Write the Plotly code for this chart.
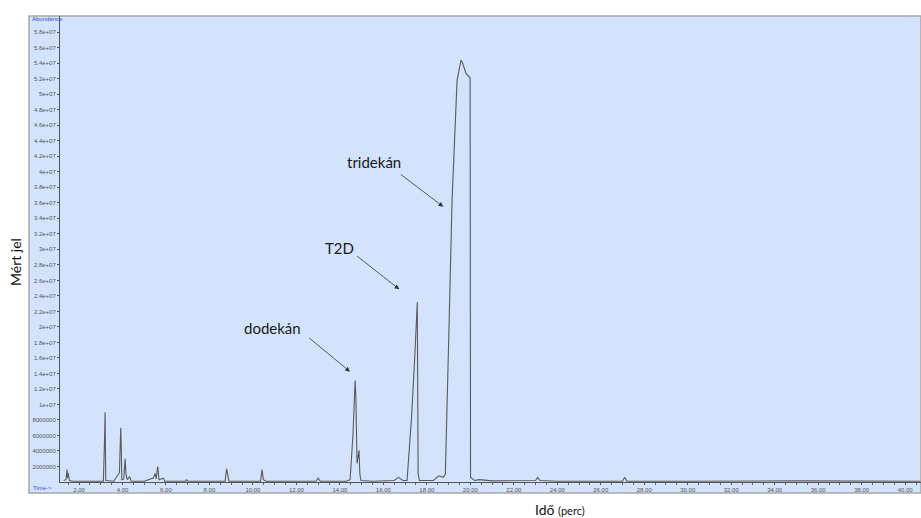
import plotly.graph_objects as go

# Chromatogram (time in minutes, abundance)
times = [1.30, 1.40, 1.45, 1.47, 1.49, 1.52, 1.56, 1.70, 2.50, 3.12, 3.17, 3.20, 3.23,
         3.60, 3.86, 3.92, 3.94, 3.97, 4.06, 4.12, 4.16, 4.22, 4.33, 4.40, 5.00, 5.42,
         5.50, 5.55, 5.62, 5.68, 5.88, 5.95, 6.90, 6.95, 7.00, 8.00, 8.72, 8.79, 8.84,
         8.90, 10.35, 10.42, 10.48, 10.60, 12.90, 13.00, 13.10, 14.30, 14.47, 14.60,
         14.70, 14.73, 14.79, 14.88, 14.92, 14.97, 15.50, 16.50, 16.70, 16.90, 17.09,
         17.30, 17.45, 17.56, 17.60, 17.66, 18.30, 18.55, 18.75, 18.85, 19.02, 19.16,
         19.39, 19.57, 19.65, 19.80, 19.99, 20.01, 20.20, 20.40, 21.00, 22.00, 23.00,
         23.10, 23.20, 24.00, 27.00, 27.10, 27.20, 30.00, 35.00, 40.70]
abundance = [0.2e6, 0.3e6, 1.6e6, 0.5e6, 1.2e6, 0.9e6, 0.2e6, 0.1e6, 0.15e6, 0.1e6, 5.0e6,
             9.0e6, 0.2e6, 0.1e6, 1.2e6, 7.0e6, 5.1e6, 0.3e6, 0.4e6, 3.0e6, 1.0e6, 0.3e6,
             0.7e6, 0.1e6, 0.1e6, 0.5e6, 1.1e6, 0.4e6, 2.0e6, 0.3e6, 0.5e6, 0.1e6, 0.1e6,
             0.3e6, 0.1e6, 0.15e6, 0.1e6, 1.7e6, 0.8e6, 0.1e6, 0.1e6, 1.6e6, 0.3e6, 0.1e6,
             0.1e6, 0.5e6, 0.1e6, 0.1e6, 0.3e6, 6.0e6, 13.1e6, 11.4e6, 2.4e6, 4.1e6, 1.0e6,
             0.2e6, 0.1e6, 0.2e6, 0.6e6, 0.2e6, 0.2e6, 8.5e6, 16.5e6, 23.2e6, 1.0e6, 0.2e6,
             0.2e6, 0.8e6, 0.6e6, 1.0e6, 20.0e6, 36.3e6, 51.8e6, 54.4e6, 54.0e6, 52.7e6,
             52.1e6, 0.6e6, 0.2e6, 0.3e6, 0.15e6, 0.15e6, 0.2e6, 0.6e6, 0.2e6, 0.1e6, 0.1e6,
             0.6e6, 0.1e6, 0.1e6, 0.15e6, 0.1e6]

x_ticks = [2, 4, 6, 8, 10, 12, 14, 16, 18, 20, 22, 24, 26, 28, 30, 32, 34, 36, 38, 40]
y_tickvals = [2e6 * k for k in range(1, 30)]
y_ticktext = ["2000000", "4000000", "6000000", "8000000", "1e+07", "1.2e+07", "1.4e+07",
              "1.6e+07", "1.8e+07", "2e+07", "2.2e+07", "2.4e+07", "2.6e+07", "2.8e+07",
              "3e+07", "3.2e+07", "3.4e+07", "3.6e+07", "3.8e+07", "4e+07", "4.2e+07",
              "4.4e+07", "4.6e+07", "4.8e+07", "5e+07", "5.2e+07", "5.4e+07", "5.6e+07",
              "5.8e+07"]

labels = ["dodekán", "T2D", "tridekán"]

W, H = 921, 518
L, R, T, B = 60, 0, 16, 36
PW, PH = W - L - R, H - T - B


def px(x):
    return (x - L) / PW


def py(y):
    return (H - B - y) / PH


fig = go.Figure()
fig.add_trace(go.Scatter(x=times, y=abundance, mode="lines",
                         line=dict(color="#5a5a5a", width=1.1), hoverinfo="skip"))

tick_font = dict(family="Liberation Sans, Arial", size=6, color="#555555")
fig.update_layout(
    width=W, height=H,
    margin=dict(l=L, r=R, t=T, b=B),
    paper_bgcolor="white",
    plot_bgcolor="rgba(0,0,0,0)",
    showlegend=False,
    xaxis=dict(range=[1.126, 40.73], tickvals=x_ticks,
               ticktext=[f"{v:.2f}" for v in x_ticks],
               showgrid=False, zeroline=False, showline=True, linecolor="#555555",
               linewidth=1, ticks="outside", ticklen=2, tickcolor="#555555",
               tickfont=tick_font,
               minor=dict(dtick=0.5, tick0=0, ticks="outside", ticklen=1.5,
                          tickcolor="#666666")),
    yaxis=dict(range=[0, 60.1e6], tickvals=y_tickvals, ticktext=y_ticktext,
               showgrid=False, zeroline=False, showline=True, linecolor="#555555",
               linewidth=1, ticks="outside", ticklen=2, tickcolor="#555555",
               tickfont=tick_font, ticklabelstandoff=0),
)

# panel background
fig.add_shape(type="rect", xref="paper", yref="paper",
              x0=px(29), x1=px(921), y0=py(493), y1=py(16),
              fillcolor="#d3e3fb", line=dict(color="#a8a8a8", width=1.5), layer="below")

ann_font = dict(family="Lato, Open Sans, sans-serif", size=15, color="#1a1a1a")
text_pos = [(272, 328), (339, 248), (374, 162)]
arrows = [((307.7, 336.7), (350, 371.7)),
          ((355.7, 255), (399.3, 289.3)),
          ((399.3, 173.3), (443.3, 206.7))]
for lab, (tx, ty), ((ax0, ay0), (hx, hy)) in zip(labels, text_pos, arrows):
    fig.add_annotation(text=lab, xref="paper", yref="paper", x=px(tx), y=py(ty),
                       showarrow=False, font=ann_font, xanchor="center", yanchor="middle")
    fig.add_annotation(text="", xref="paper", yref="paper", x=px(hx), y=py(hy),
                       ax=ax0 - hx, ay=ay0 - hy, showarrow=True, arrowhead=2,
                       arrowsize=1.2, arrowwidth=0.8, arrowcolor="#333333")

fig.add_annotation(text="Abundance", xref="paper", yref="paper", x=px(30), y=py(19),
                   showarrow=False, xanchor="left", yanchor="middle",
                   font=dict(family="Liberation Sans, Arial", size=6, color="#3a4fd0"))
fig.add_annotation(text="Time->", xref="paper", yref="paper", x=px(31), y=py(487.5),
                   showarrow=False, xanchor="left", yanchor="middle",
                   font=dict(family="Liberation Sans, Arial", size=6, color="#3a4fd0"))

title_font = dict(family="Lato, Open Sans, sans-serif", size=14, color="#111111")
fig.add_annotation(text="Mért jel", xref="paper", yref="paper", x=px(15), y=py(262),
                   showarrow=False, textangle=-90, xanchor="center", yanchor="middle",
                   font=title_font)
fig.add_annotation(text="Idő <span style='font-size:11px'>(perc)</span>",
                   xref="paper", yref="paper", x=px(560), y=py(509),
                   showarrow=False, xanchor="center", yanchor="middle", font=title_font)

fig.write_html("out.html")
